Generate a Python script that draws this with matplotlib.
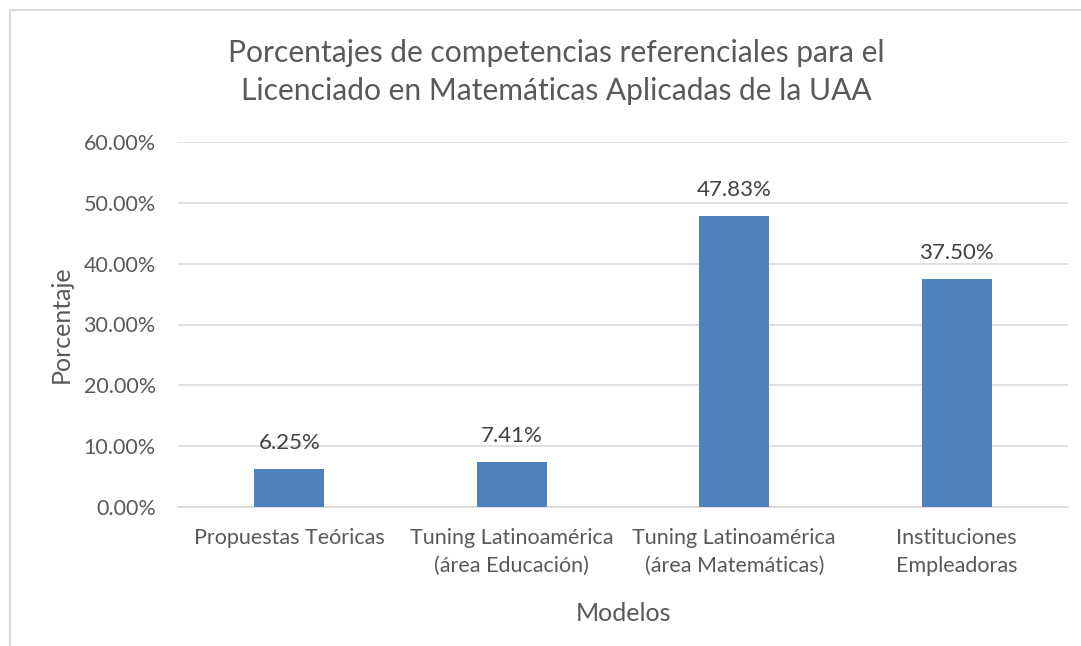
import matplotlib.pyplot as plt
from matplotlib.patches import Rectangle

categorias = ['Propuestas Teóricas', 'Tuning Latinoamérica\n(área Educación)',
              'Tuning Latinoamérica\n(área Matemáticas)', 'Instituciones\nEmpleadoras']
valores = [6.25, 7.41, 47.83, 37.50]
ticks = [0, 10, 20, 30, 40, 50, 60]

plt.rcParams['font.family'] = ['Lato', 'DejaVu Sans']
gris = '#595959'

fig = plt.figure(figsize=(10.81, 6.46), dpi=100)
# marco del grafico
fig.patches.append(Rectangle((10 / 1081, -0.05), 1.1, 1 - 10 / 646 + 0.05,
                             transform=fig.transFigure, fill=False,
                             edgecolor='#d9d9d9', linewidth=1.5))

ax = fig.add_axes([178 / 1081, 1 - 507 / 646, (1068 - 178) / 1081, (507 - 142) / 646])
x = range(len(categorias))
barras = ax.bar(x, valores, width=0.315, color='#4f81bd', zorder=3)
for xi, v in zip(x, valores):
    ax.text(xi, v + 2.6, '%.2f%%' % v, ha='center', va='bottom', fontsize=16, color='#404040')

ax.set_xlim(-0.5, len(categorias) - 0.5)
ax.set_ylim(0, 60)
ax.set_yticks(ticks)
ax.set_yticklabels(['%.2f%%' % t for t in ticks])
ax.set_xticks(list(x))
ax.set_xticklabels(categorias, linespacing=1.5)
ax.tick_params(axis='both', length=0, labelsize=15.5, labelcolor=gris)
ax.tick_params(axis='y', pad=16)
ax.tick_params(axis='x', pad=15)
ax.grid(axis='y', color='#d9d9d9', linewidth=1.2, zorder=0)
for s in ['top', 'right', 'left']:
    ax.spines[s].set_visible(False)
ax.spines['bottom'].set_color('#d9d9d9')
ax.spines['bottom'].set_linewidth(1.2)

ax.set_xlabel('Modelos', fontsize=18, color=gris, labelpad=19)
ax.set_ylabel('Porcentaje', fontsize=18, color=gris, labelpad=8)
fig.text(556 / 1081, 1 - 72 / 646,
         'Porcentajes de competencias referenciales para el\nLicenciado en Matemáticas Aplicadas de la UAA',
         ha='center', va='center', fontsize=21.6, color=gris, linespacing=1.4)

plt.savefig('out.png', dpi=100)
